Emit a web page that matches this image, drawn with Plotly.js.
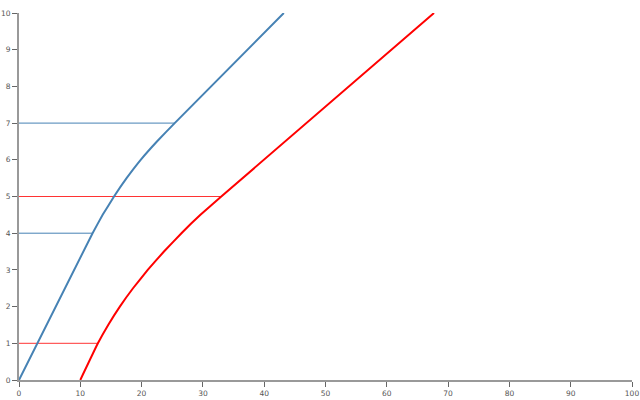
<!DOCTYPE html>
<html>
<head>
<meta charset="utf-8">
<script src="https://cdn.plot.ly/plotly-3.0.1.min.js"></script>
<style>html,body{margin:0;padding:0;background:#fff;}#chart{width:640px;height:400px;}</style>
</head>
<body>
<div id="chart"></div>
<script>
// Blue curve
const blueX = [0, 12.0, 13.65, 15.5, 17.55, 19.85, 22.5, 25.4, 43.2];
const blueY = [0, 4, 4.5, 5, 5.5, 6, 6.5, 7, 10];
// Red curve
const redX = [10, 12.87, 14.55, 16.45, 18.6, 21.0, 23.65, 26.5, 29.6, 33.0, 67.7];
const redY = [0, 1, 1.5, 2, 2.5, 3, 3.5, 4, 4.5, 5, 10];
// Horizontal reference levels
const blueLevels = [4, 7];
const blueLevelEnds = [12.0, 25.4];
const redLevels = [1, 5];
const redLevelEnds = [12.87, 33.0];

const BLUE = '#4682b4';
const RED = '#ff0000';

const traces = [];
blueLevels.forEach((y, i) => traces.push({x: [0, blueLevelEnds[i]], y: [y, y], mode: 'lines', line: {color: BLUE, width: 1}, hoverinfo: 'skip'}));
redLevels.forEach((y, i) => traces.push({x: [0, redLevelEnds[i]], y: [y, y], mode: 'lines', line: {color: RED, width: 1}, opacity: 0.8, hoverinfo: 'skip'}));
traces.push({x: blueX, y: blueY, mode: 'lines', line: {color: BLUE, width: 2, shape: 'spline', smoothing: 0.3}});
traces.push({x: redX, y: redY, mode: 'lines', line: {color: RED, width: 2, shape: 'spline', smoothing: 0.3}});

const axisBase = {
  showgrid: false, zeroline: false, showline: true, linecolor: '#999', linewidth: 2,
  ticks: 'outside', ticklen: 5, tickwidth: 1, tickcolor: '#666',
  tickfont: {family: 'DejaVu Sans', size: 7.5, color: '#555'}, fixedrange: true
};
const layout = {
  width: 640, height: 400,
  margin: {l: 19, r: 8, t: 13, b: 20},
  showlegend: false,
  paper_bgcolor: '#fff', plot_bgcolor: '#fff',
  xaxis: Object.assign({}, axisBase, {range: [0, 100], tickvals: [0,10,20,30,40,50,60,70,80,90,100]}),
  yaxis: Object.assign({}, axisBase, {range: [0, 10], tickvals: [0,1,2,3,4,5,6,7,8,9,10]})
};
Plotly.newPlot('chart', traces, layout, {staticPlot: true, displayModeBar: false});
</script>
</body>
</html>
